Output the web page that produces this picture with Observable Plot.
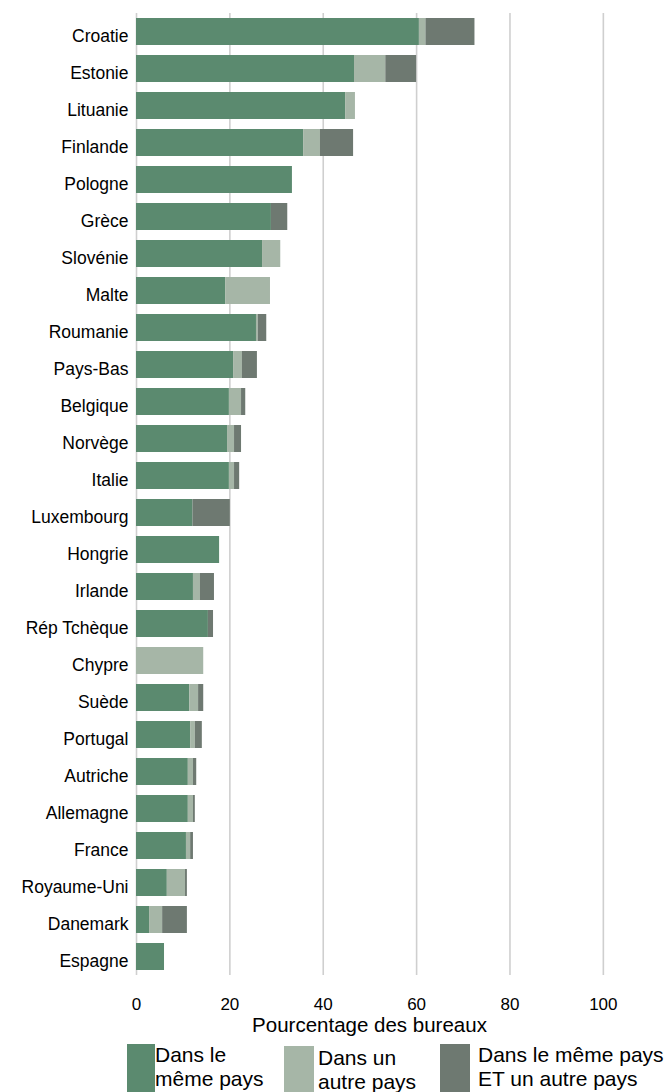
<!DOCTYPE html>
<html>
<head>
<meta charset="utf-8">
<script src="https://cdn.jsdelivr.net/npm/d3@7"></script>
<script src="https://cdn.jsdelivr.net/npm/@observablehq/plot@0.6"></script>
<style>
  html, body { margin: 0; padding: 0; background: #fff; }
  body { font-family: "Liberation Sans", Arial, sans-serif; color: #000; }
  #wrap { position: relative; width: 671px; height: 1092px; overflow: hidden; }
  .xlabel { position: absolute; left: 136px; width: 467px; top: 1015px; text-align: center; font-size: 20.5px; line-height: 20.5px; white-space: nowrap; }
  .sw { position: absolute; }
  .lt { position: absolute; font-size: 21px; line-height: 24px; white-space: nowrap; }
</style>
</head>
<body>
<div id="wrap"></div>
<script>
const countries = ["Croatie","Estonie","Lituanie","Finlande","Pologne","Grèce","Slovénie","Malte","Roumanie","Pays-Bas","Belgique","Norvège","Italie","Luxembourg","Hongrie","Irlande","Rép Tchèque","Chypre","Suède","Portugal","Autriche","Allemagne","France","Royaume-Uni","Danemark","Espagne"];
const sameCountry  = [60.6,46.7,44.8,35.8,33.4,28.9,27.0,19.1,25.7,20.8,19.9,19.5,19.9,12.1,17.8,12.2,15.4,0,11.4,11.6,11.1,11.1,10.7,6.6,2.8,6.0];
const otherCountry = [1.4,6.7,2.1,3.6,0,0,3.9,9.6,0.4,1.9,2.6,1.5,1.1,0,0,1.5,0,14.4,1.9,1.0,1.1,1.1,0.9,3.9,2.8,0];
const bothCountries= [10.5,6.6,0,7.1,0,3.5,0,0,1.8,3.2,0.9,1.5,1.1,8.0,0,3.0,1.1,0,1.1,1.5,0.7,0.4,0.6,0.4,5.3,0];
const seriesKeys   = ["same","other","both"];
const seriesLabels = [["Dans le","même pays"],["Dans un","autre pays"],["Dans le même pays","ET un autre pays"]];
const seriesColors = ["#5b8a6f","#a6b6a7","#6e7971"];
const xTicks = [0,20,40,60,80,100];
const xLabel = "Pourcentage des bureaux";

const seriesValues = [sameCountry, otherCountry, bothCountries];
const data = [];
countries.forEach((c, i) => {
  seriesKeys.forEach((k, j) => data.push({country: c, series: k, value: seriesValues[j][i]}));
});

const chart = Plot.plot({
  width: 671,
  height: 1040,
  marginLeft: 136,
  marginRight: 0,
  marginTop: 13,
  marginBottom: 65,
  style: {fontFamily: '"Liberation Sans", Arial, sans-serif', color: "#000", background: "#fff"},
  x: {domain: [0, 114.6]},
  y: {domain: countries, paddingInner: 0.27, paddingOuter: 0.135},
  color: {domain: seriesKeys, range: seriesColors},
  marks: [
    Plot.gridX(xTicks, {stroke: "#cfcfcf", strokeOpacity: 1, strokeWidth: 1.6}),
    Plot.barX(data, {x: "value", y: "country", fill: "series", order: seriesKeys}),
    Plot.axisX({ticks: xTicks, tickSize: 0, tickPadding: 22, fontSize: 17, label: null}),
    Plot.axisY({tickSize: 0, tickPadding: 8, fontSize: 17.5, dy: 4, label: null})
  ]
});

const wrap = document.getElementById("wrap");
wrap.appendChild(chart);

const xl = document.createElement("div");
xl.className = "xlabel";
xl.textContent = xLabel;
wrap.appendChild(xl);

const legendPos = [
  {sx: 127, sw: 28, st: 1044, tx: 155, tt: 1043},
  {sx: 284, sw: 30, st: 1046, tx: 318, tt: 1046},
  {sx: 440, sw: 30, st: 1044, tx: 478, tt: 1043}
];
seriesKeys.forEach((k, i) => {
  const p = legendPos[i];
  const s = document.createElement("div");
  s.className = "sw";
  s.style.left = p.sx + "px"; s.style.width = p.sw + "px";
  s.style.top = p.st + "px"; s.style.height = (1092 - p.st) + "px";
  s.style.background = seriesColors[i];
  wrap.appendChild(s);
  const t = document.createElement("div");
  t.className = "lt";
  t.style.left = p.tx + "px"; t.style.top = p.tt + "px";
  t.innerHTML = seriesLabels[i].join("<br>");
  wrap.appendChild(t);
});
</script>
</body>
</html>
